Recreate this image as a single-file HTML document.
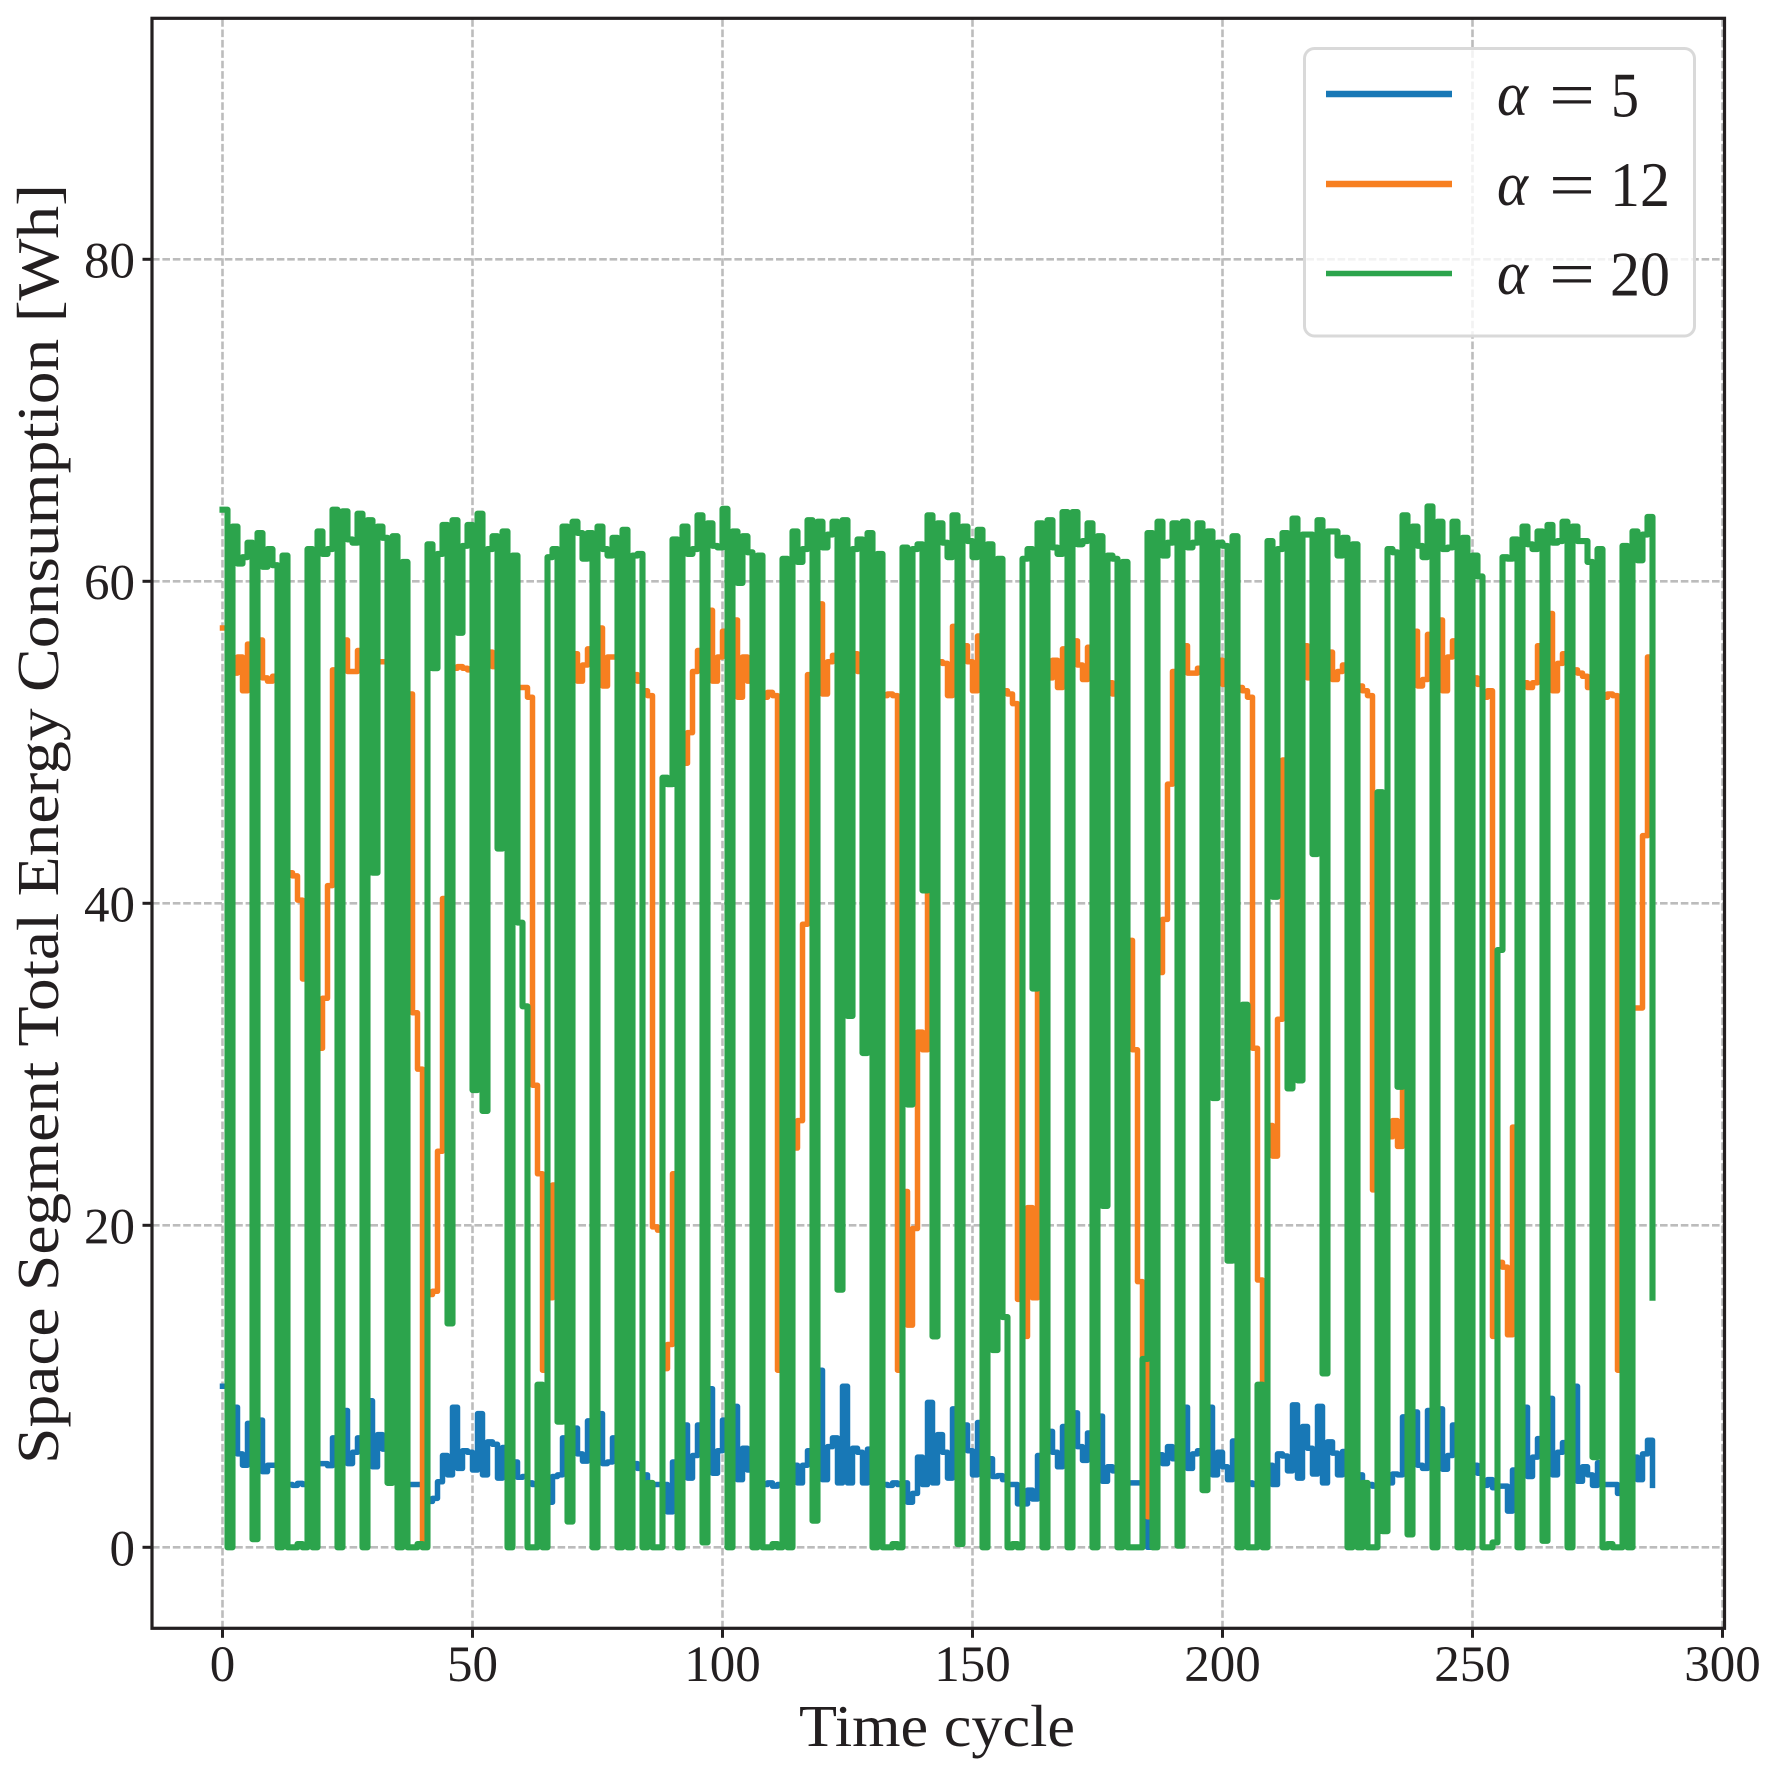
<!DOCTYPE html>
<html lang="en">
<head>
<meta charset="utf-8">
<title>Space Segment Total Energy Consumption</title>
<style>
html,body{margin:0;padding:0;background:#fff;}
svg{display:block;}
text{font-family:"Liberation Serif",serif;fill:#231f20;}
</style>
</head>
<body>
<svg id="chart" xmlns="http://www.w3.org/2000/svg" width="1770" height="1779" viewBox="0 0 1770 1779">
  <g id="grid"></g>
  <g id="series"></g>
  <rect x="152" y="18.3" width="1572.5" height="1610" fill="none" stroke="#231f20" stroke-width="3.2"/>
  <g id="ticks"></g>
  <text x="937" y="1746" font-size="59" text-anchor="middle" textLength="276" lengthAdjust="spacingAndGlyphs">Time cycle</text>
  <text transform="translate(58,824) rotate(-90)" font-size="59" text-anchor="middle" textLength="1280" lengthAdjust="spacingAndGlyphs">Space Segment Total Energy Consumption [Wh]</text>
  <g>
    <rect x="1304.5" y="48.5" width="390" height="287.5" rx="10" ry="10" fill="#fff" fill-opacity="0.8" stroke="#d9d9d9" stroke-width="3"/>
    <line x1="1326" x2="1452" y1="94" y2="94" stroke="#1878b6" stroke-width="6.4"/>
    <line x1="1326" x2="1452" y1="184" y2="184" stroke="#f77f20" stroke-width="6.4"/>
    <line x1="1326" x2="1452" y1="273.5" y2="273.5" stroke="#2ca44c" stroke-width="5.6"/>
    <g font-size="62">
      <text x="1497" y="115" font-style="italic" textLength="31" lengthAdjust="spacingAndGlyphs">α</text>
      <text x="1549" y="117" font-size="66" textLength="46" lengthAdjust="spacingAndGlyphs">=</text>
      <text x="1611" y="116.5" font-size="64" textLength="28" lengthAdjust="spacingAndGlyphs">5</text>
    </g>
    <g font-size="62">
      <text x="1497" y="205" font-style="italic" textLength="31" lengthAdjust="spacingAndGlyphs">α</text>
      <text x="1549" y="207" font-size="66" textLength="46" lengthAdjust="spacingAndGlyphs">=</text>
      <text x="1610" y="206" font-size="64" textLength="60" lengthAdjust="spacingAndGlyphs">12</text>
    </g>
    <g font-size="62">
      <text x="1497" y="294" font-style="italic" textLength="31" lengthAdjust="spacingAndGlyphs">α</text>
      <text x="1549" y="296" font-size="66" textLength="46" lengthAdjust="spacingAndGlyphs">=</text>
      <text x="1610" y="295.5" font-size="64" textLength="60" lengthAdjust="spacingAndGlyphs">20</text>
    </g>
  </g>
</svg>
<script>
const xTicks = [0, 50, 100, 150, 200, 250, 300];
const yTicks = [0, 20, 40, 60, 80];
const alpha5 = [
10,5.5,8.7,5.8,5.1,7.7,5.5,7.9,4.7,5.1,
5.1,5,4.5,3.9,3.85,3.97,3.9,4.2,5,5.2,
5.2,5.07,6.8,5.5,8.5,5.2,5.9,6.8,5.5,9.1,
5,7,6.1,5,4.5,4.2,4,3.9,3.9,3.9,
3.9,2.85,3.04,4.07,5.7,4.5,8.7,4.9,6,5.9,
4.8,8.3,4.5,6.55,6.4,4.3,6.2,5,5.3,4.35,
4.4,4,3.9,3.9,3.7,2.8,4.4,4.5,6.8,5.5,
7.4,5.8,5.35,7.85,5.5,8.3,5.2,5.3,6.8,5.5,
6,5,5.2,4.9,4.5,4,3.9,3.9,3.9,2.2,
5.3,4.5,7.6,4.3,5.7,7.6,5,9.85,4.6,6,
7.9,5,8.75,4.2,6.15,4.8,5.5,4.5,3.9,4,
3.8,3.9,4,4.5,5.1,4,5.1,6,5,11,
4.2,6.25,6.8,4,10,4,6.15,5.9,4,6.1,
5,4.5,3.9,3.85,4,3.9,4,2.8,3.35,5.6,
3.9,9,4,7,5.9,4.3,8.6,5,7.6,6,
4.5,7.75,5,5.5,4.4,4.45,4.2,3.9,3.9,2.7,
2.7,3.55,3,5.7,5,7.2,5.9,5,7.5,5,
8.35,6.25,5.4,7.1,5.5,8.15,4.1,5,4.75,4.5,
4.2,4,4,4,3.9,0,4,5.75,5.2,6.25,
5.5,6,8.7,4.9,5.8,6,5,8.7,4.5,5.9,
5,4.2,6.6,5,4.5,4,3.9,4.5,4.5,5.1,
3.9,5.8,5.67,4.75,8.85,4.3,7.5,6.15,4.55,8.75,
4,6.55,5.85,4.5,5.95,5,5,4.5,4,3.9,
3.8,3.9,3.9,4,4.55,4.5,8.1,5,8.4,5.1,
4.9,8.5,5,8.6,4.85,5.7,7.6,5,6,5,
5.1,4.6,3.85,4.2,3.7,3.8,3.8,2.25,4.8,5,
8.7,4.4,5.6,6.75,5,9.25,4.5,5.9,6.5,5,
10,4.1,5,4.5,3.85,5.25,3.9,3.9,3.9,3.35,
4.5,4.5,5.6,4.2,5.8,6.65,3.85
];
const alpha12 = [
57.1,54.3,54.3,55.3,53.2,56.1,54.5,56.35,54,53.8,
54.1,54,53,41.9,41.7,40.2,35.3,35,33,31,
34.1,41.1,54.5,54.5,56.35,54.4,54.4,55.7,54.6,54.6,
55,55,55,54.5,54.5,54,54,53,33.2,29.7,
0,15.7,15.9,24.6,40.3,50,54.6,54.7,54.6,54.5,
54.6,55,54.5,55.6,54.7,54.5,54,53.6,53.5,53.4,
53.4,52.8,28.7,23.2,11,15.5,22.5,30,45,55,
55.5,53.8,54.8,55.8,54.8,57.1,53.5,55.3,55.3,54.5,
54.5,54.5,54.2,53.8,53.2,52.9,19.9,19.7,11.1,12.6,
23.2,35,48.7,50.6,54.4,55.7,55,58.2,53.8,55.3,
56.9,55,57.6,52.8,55.3,53.8,54,53.5,52.8,53.1,
52.9,11,20,25,24.8,26.5,38.7,54.2,54.5,58.6,
53,55,55.4,55,55,55,55.5,54.4,54,54,
53.5,53.2,52.9,53,52.9,11,22.1,13.8,19.8,32,
30.9,40.8,50,55,54.9,52.9,57.2,55,56,55,
53.2,56.6,55,55,54,53.5,53.2,53,52.4,15.4,
13.1,21.1,15.5,55,55,54,55.1,53.4,55.8,55,
56.3,54.8,53.9,55.9,54.5,54.5,54,53.7,53,52.5,
52,37.7,30.9,16.5,11.5,1.9,0,35.7,39,47.4,
54.4,54.4,56,54.3,54.3,54.6,54.6,54.6,55,55.1,
53.6,53.6,53.6,53.4,53.2,52.8,31,16.6,8,26.2,
24.3,32.8,48.9,54,54,54,56,54,54.5,54.8,
55,55.6,53.9,54.4,54.8,54,53.8,53.5,53.2,52.9,
22.2,10,26,25.5,26.5,24.9,55,55,56.9,53.5,
53.9,56.7,55,57.6,53.2,55.3,56.3,55,54.5,54.2,
54,53.6,52.8,53.2,13.1,17.7,17.4,13.2,26.1,40,
53.7,53.4,53.7,56,55,58,53.2,54.9,55.5,54.5,
54.5,54.3,54.1,53.4,53.3,53,52.8,53,52.9,11,
20,25,33.5,33.5,44.2,55.3,54
];
const alpha20 = [
64.45,0,63.4,61.1,61.5,62.4,0.5,63,60.9,62,
61,0,61.6,0,0,0.2,0,62,0,63.1,
61.7,62,64.45,0,64.35,62.6,62.4,64.2,0,63.8,
41.9,63.4,62.7,4,62.8,0,61.2,0,0,0.2,
0,62.3,54.6,61.7,63.5,13.9,63.8,56.8,62.2,63.5,
28.4,64.2,27.1,62,62.8,43.4,63.1,0,61.6,38.8,
33.6,0,0,10.1,0,61.5,62,7.8,63.4,1.6,
63.7,63,61.4,63,0,63.4,62,61.6,62.7,0,
63.2,0,61.6,61.7,0,4,0,0,47.8,47.4,
62.6,0,63.4,61.7,62,64.1,0.3,63.6,62.2,62.1,
64.5,0,63.1,59.9,62.8,61.8,0,61.6,0,0,
0.2,0,61.4,0,63.1,61.2,62,63.8,1.65,63.7,
62.1,62.9,63.7,16,63.8,33,62,62.6,30.7,63,
0,61.7,0,0,0.2,0,62.1,27.5,62,62.3,
40.8,64.1,13.1,63.6,62.4,61.5,64.1,0.2,63.4,62.5,
61.5,63.2,0,62.3,12.25,61.4,14.3,0,0.2,0,
61.4,62,34.7,63.6,0,63.8,62.1,61.7,64.3,0,
64.3,62.3,62.5,63.6,0,62.8,21.2,61.6,61.4,0,
61.2,0,0,0,11.7,63,0,63.7,61.6,62.4,
63.6,0.1,63.7,62.1,62.4,63.6,3.55,63.1,27.9,62.4,
62.2,17.8,62.8,0,33.7,0,0,10.1,0,62.5,
40.4,62,63,28.5,63.9,29,62.9,62.9,43.06,63.8,
10.8,63.1,63.1,61.6,62.7,0,62.3,0,4,0,
0,46.9,1,62,61.8,28.6,64.1,0.8,63.4,62.2,
61.5,64.65,0,63.7,62,62.1,63.7,0,62.7,0,
61.6,60.3,0,0,0.3,37.1,61.5,61.4,62.6,0,
63.4,62.3,62,63.1,0.4,63.5,62.4,62.5,63.7,0,
63.4,62.5,62.5,61.2,5.6,62,0,0.2,0,0,
62.2,0,63.1,61.3,62.9,64,15.5
];

const SVGNS = 'http://www.w3.org/2000/svg';
function xScale(t) { return 222.5 + 5 * t; }
function yScale(v) { return 1547.3 - 16.1 * v; }
const plotLeft = 152, plotRight = 1724.5, plotTop = 18.3, plotBottom = 1628.3;

function stepPath(values) {
  let d = 'M' + xScale(0) + ' ' + yScale(values[0]).toFixed(2);
  for (let i = 1; i < values.length; i++) {
    d += 'H' + xScale(i) + 'V' + yScale(values[i]).toFixed(2);
  }
  return d;
}

const gridG = document.getElementById('grid');
const ticksG = document.getElementById('ticks');
const seriesG = document.getElementById('series');

xTicks.forEach(function (t) {
  const g = document.createElementNS(SVGNS, 'line');
  
  
  g.setAttribute('x1', xScale(t));
  g.setAttribute('x2', xScale(t));
  g.setAttribute('y1', plotBottom);
  g.setAttribute('y2', plotTop);
  g.setAttribute('stroke', '#bcbcbc');
  g.setAttribute('stroke-width', '2.6');
  g.setAttribute('stroke-dasharray', '7.6 2.8');
  gridG.appendChild(g);

  const tk = document.createElementNS(SVGNS, 'line');
  
  
  tk.setAttribute('x1', xScale(t));
  tk.setAttribute('x2', xScale(t));
  tk.setAttribute('y1', plotBottom);
  tk.setAttribute('y2', plotBottom + 9.5);
  tk.setAttribute('stroke', '#231f20');
  tk.setAttribute('stroke-width', '3');
  ticksG.appendChild(tk);

  const lb = document.createElementNS(SVGNS, 'text');
  
  
  lb.setAttribute('x', xScale(t));
  lb.setAttribute('y', 1681);
  lb.setAttribute('font-size', '51');
  lb.setAttribute('text-anchor', 'middle');
  lb.textContent = String(t);
  ticksG.appendChild(lb);
});

yTicks.forEach(function (v) {
  const g = document.createElementNS(SVGNS, 'line');
  
  
  g.setAttribute('x1', plotLeft);
  g.setAttribute('x2', plotRight);
  g.setAttribute('y1', yScale(v));
  g.setAttribute('y2', yScale(v));
  g.setAttribute('stroke', '#bcbcbc');
  g.setAttribute('stroke-width', '2.6');
  g.setAttribute('stroke-dasharray', '7.6 2.8');
  gridG.appendChild(g);

  const tk = document.createElementNS(SVGNS, 'line');
  
  
  tk.setAttribute('x1', plotLeft - 9.5);
  tk.setAttribute('x2', plotLeft);
  tk.setAttribute('y1', yScale(v));
  tk.setAttribute('y2', yScale(v));
  tk.setAttribute('stroke', '#231f20');
  tk.setAttribute('stroke-width', '3');
  ticksG.appendChild(tk);

  const lb = document.createElementNS(SVGNS, 'text');
  
  
  lb.setAttribute('x', 135);
  lb.setAttribute('y', yScale(v) + 18);
  lb.setAttribute('font-size', '51');
  lb.setAttribute('text-anchor', 'end');
  lb.textContent = String(v);
  ticksG.appendChild(lb);
});

const line5 = document.createElementNS(SVGNS, 'path');


line5.setAttribute('d', stepPath(alpha5));
line5.setAttribute('stroke', '#1878b6');
line5.setAttribute('stroke-width', '5.5');
line5.setAttribute('fill', 'none');
line5.setAttribute('stroke-linecap', 'square');
line5.setAttribute('stroke-linejoin', 'round');
seriesG.appendChild(line5);

const line12 = document.createElementNS(SVGNS, 'path');


line12.setAttribute('d', stepPath(alpha12));
line12.setAttribute('stroke', '#f77f20');
line12.setAttribute('stroke-width', '5.5');
line12.setAttribute('fill', 'none');
line12.setAttribute('stroke-linecap', 'square');
line12.setAttribute('stroke-linejoin', 'round');
seriesG.appendChild(line12);

const line20 = document.createElementNS(SVGNS, 'path');


line20.setAttribute('d', stepPath(alpha20));
line20.setAttribute('stroke', '#2ca44c');
line20.setAttribute('stroke-width', '6.1');
line20.setAttribute('fill', 'none');
line20.setAttribute('stroke-linecap', 'square');
line20.setAttribute('stroke-linejoin', 'round');
seriesG.appendChild(line20);
</script>
</body>
</html>
